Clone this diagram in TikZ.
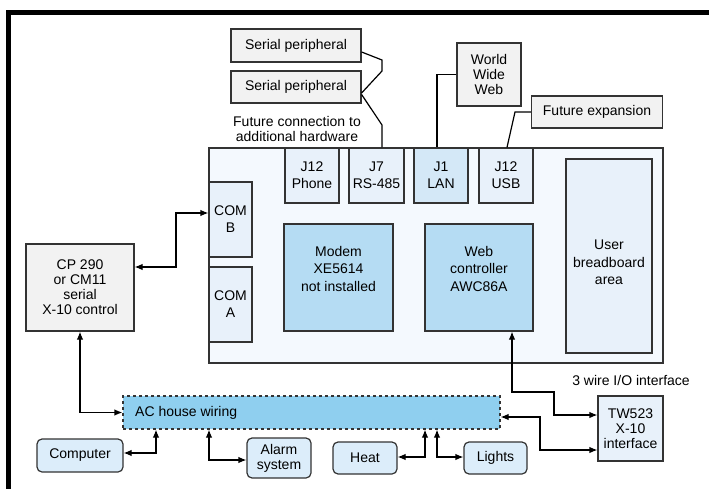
\documentclass[tikz,border=0pt]{standalone}
\usepackage{fontspec}
\setmainfont{Liberation Sans}
\usetikzlibrary{arrows.meta,calc}
\definecolor{boardfill}{HTML}{F4F9FE}
\definecolor{portfill}{HTML}{E8F1FA}
\definecolor{lanfill}{HTML}{D4E8F7}
\definecolor{chipfill}{HTML}{B5DCF3}
\definecolor{acfill}{HTML}{8FCFEF}
\definecolor{devfill}{HTML}{DCEDFA}
\definecolor{grayfill}{HTML}{F2F2F2}
\definecolor{edge}{HTML}{333333}
\tikzset{
  x=1pt, y=-1pt,
  every node/.style={font=\fontsize{14}{15}\selectfont, align=center, inner sep=0pt},
  box/.style={draw=edge, line width=1.2pt, rectangle},
  graybox/.style={box, fill=grayfill},
  portbox/.style={box, fill=portfill, font=\fontsize{14}{17}\selectfont},
  chipbox/.style={box, fill=chipfill},
  devbox/.style={box, fill=devfill, rounded corners=5pt},
  conn/.style={draw=black, line width=1.2pt},
  biarrow/.style={conn, {Latex[length=8pt,width=6.5pt]}-{Latex[length=8pt,width=6.5pt]}},
  txt/.style={font=\fontsize{14}{15}\selectfont},
  chiptxt/.style={font=\fontsize{14}{17.5}\selectfont},
}
\begin{document}
\begin{tikzpicture}
\useasboundingbox (0,0) rectangle (709,489);
% frame
\draw[line width=5pt, line join=miter] (8.5,489) -- (8.5,12.5) -- (709,12.5);

% top peripherals
\node[graybox, minimum width=130, minimum height=33] (sp1) at (296,45.5) {Serial peripheral};
\node[graybox, minimum width=130, minimum height=32] (sp2) at (296,87) {Serial peripheral};
\node[graybox, minimum width=64, minimum height=63] (www) at (489,74.5) {World\\Wide\\Web};
\node[graybox, minimum width=131, minimum height=32] (fexp) at (597,112) {Future expansion};
\node[txt] (futtxt) at (297,128.5) {Future connection to\\additional hardware};

% board
\node[box, fill=boardfill, minimum width=454, minimum height=215] (board) at (436,255.5) {};
\node[portbox, minimum width=54, minimum height=55] (j12p) at (312,175.5) {J12\\Phone};
\node[portbox, minimum width=55, minimum height=55] (j7) at (376.5,175.5) {J7\\RS-485};
\node[portbox, fill=lanfill, minimum width=54, minimum height=55] (j1) at (441,175.5) {J1\\LAN};
\node[portbox, minimum width=54, minimum height=55] (j12u) at (506,175.5) {J12\\USB};
\node[portbox, minimum width=43, minimum height=75] (comb) at (230.5,219.5) {COM\\B};
\node[portbox, minimum width=43, minimum height=75] (coma) at (230.5,304.5) {COM\\A};
\node[chipbox, minimum width=109, minimum height=107] (modem) at (338.5,277.5) {};
\node[chiptxt] (modemtxt) at (338.5,268.5) {Modem\\XE5614\\not installed};
\node[chipbox, minimum width=108, minimum height=107] (web) at (479,277.5) {};
\node[chiptxt] (webtxt) at (479,268.5) {Web\\controller\\AWC86A};
\node[portbox, minimum width=86, minimum height=194] (bread) at (609,256) {};
\node[chiptxt] (breadtxt) at (609,262.5) {User\\breadboard\\area};

% left controller
\node[graybox, minimum width=108, minimum height=87] (cp) at (80,287.5) {CP 290\\or CM11\\serial\\X-10 control};

% AC wiring
\node[box, dashed, fill=acfill, minimum width=377, minimum height=33] (ac) at (311.5,412.5) {};
\node[txt, anchor=west] (actxt) at (135,412.5) {AC house wiring};

% devices
\node[devbox, minimum width=86, minimum height=33] (comp) at (80,455.5) {Computer};
\node[devbox, minimum width=64, minimum height=40] (alarm) at (279,458) {Alarm\\system};
\node[devbox, minimum width=64, minimum height=32] (heat) at (365,458) {Heat};
\node[devbox, minimum width=63, minimum height=32] (lights) at (495.5,458) {Lights};
\node[box, fill=portfill, minimum width=65, minimum height=65] (tw) at (630.5,428.5) {TW523\\X-10\\interface};
\node[txt] (wiretxt) at (631,380) {3 wire I/O interface};

% connectors
\draw[conn] ($(sp1.east)+(0,6.5)$) -- (382,60) -- (382,71) -- ($(sp2.east)+(0,6)$);
\draw[conn] ($(sp2.east)+(0,7.5)$) -- (382,125) -- (382,0 |- j7.north);
\draw[conn] (www.west) -- (437,0 |- www.west) -- (437,0 |- j1.north);
\draw[conn] (fexp.west) -- (515,0 |- fexp.west) -- (507,0 |- j12u.north);
\draw[biarrow] ($(comb.west)+(0,-6.5)$) -- (176,213) -- (176,267) -- (cp.east |- 0,267);
\draw[biarrow] (cp.south) -- (80,412.5) -- (ac.west);
\draw[biarrow] (512,0 |- web.south) -- (512,392) -- (554,392) -- (554,415) -- (tw.west |- 0,415);
\draw[biarrow] (ac.east |- 0,417) -- (540,417) -- (540,450) -- (tw.west |- 0,450);
\draw[biarrow] (156,0 |- ac.south) -- (156,453) -- (comp.east |- 0,453);
\draw[biarrow] (209,0 |- ac.south) -- (209,460) -- (alarm.west |- 0,460);
\draw[biarrow] (425,0 |- ac.south) -- (425,457) -- (heat.east |- 0,457);
\draw[biarrow] (437,0 |- ac.south) -- (437,457) -- (lights.west |- 0,457);
\end{tikzpicture}
\end{document}
